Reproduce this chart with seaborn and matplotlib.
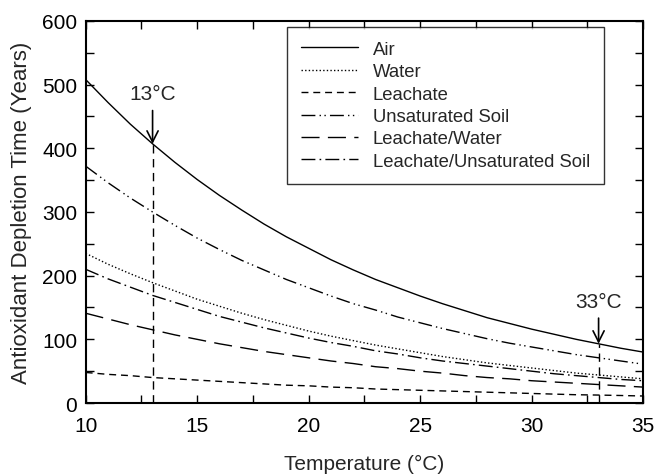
import matplotlib
matplotlib.use("Agg")
import matplotlib.pyplot as plt
import seaborn as sns
import pandas as pd

temps = list(range(10, 36))
air = [508, 472, 438, 407, 378, 351, 326, 303, 281, 261, 243, 225, 209, 194, 181,
       168, 156, 145, 134, 125, 116, 108, 100, 93, 86, 80]
water = [235, 218, 203, 189, 176, 163, 152, 141, 131, 122, 113, 105, 98, 91, 85,
         79, 73, 68, 63, 59, 55, 51, 47, 44, 41, 38]
leachate = [48, 45, 43, 40, 38, 36, 34, 32, 30, 28, 27, 25, 24, 22, 21,
            20, 19, 18, 17, 16, 15, 14, 13, 12.5, 11.8, 11]
unsat_soil = [372, 346, 322, 300, 279, 259, 241, 224, 209, 194, 181, 168, 156, 146, 135,
              126, 117, 109, 101, 94, 88, 82, 76, 71, 66, 61]
leachate_water = [141, 132, 123, 115, 107, 100, 93, 87, 81, 76, 71, 66, 62, 57, 54,
                  50, 47, 43, 40, 38, 35, 33, 31, 29, 27, 25]
leachate_unsat = [210, 195, 182, 169, 158, 147, 136, 127, 118, 110, 102, 95, 89, 82, 77,
                  71, 66, 62, 58, 54, 50, 46, 43, 40, 37, 35]

labels = ["Air", "Water", "Leachate", "Unsaturated Soil", "Leachate/Water",
          "Leachate/Unsaturated Soil"]
series = [air, water, leachate, unsat_soil, leachate_water, leachate_unsat]
styles = ["-", (0, (1, 1.6)), (0, (5, 3.5)), (0, (10, 3, 1, 2.5, 1, 3)),
          (0, (13, 6)), (0, (10, 3, 1.2, 3))]

marks = [13, 33]
mark_air = [407, 93]
mark_offsets = [64, 52]
mark_labels = ["13°C", "33°C"]

sns.set_style("ticks")
plt.rcParams['font.family'] = ['Liberation Sans', 'DejaVu Sans']

fig = plt.figure(figsize=(6.59, 4.77), dpi=100)
ax = fig.add_axes([0.130, 0.153, 0.846, 0.801])

for lab, vals, ls in zip(labels, series, styles):
    df = pd.DataFrame({"T": temps, "v": vals})
    sns.lineplot(data=df, x="T", y="v", ax=ax, color="black", linewidth=1.0,
                 linestyle=ls, label=lab)

for xm, ym, off, tl in zip(marks, mark_air, mark_offsets, mark_labels):
    ax.plot([xm, xm], [0, ym], color="black", linewidth=1.0,
            linestyle=(0, (6, 4)))
    ax.annotate(tl, xy=(xm, ym), xytext=(xm, ym + off), ha="center", va="bottom",
                fontsize=15,
                arrowprops=dict(arrowstyle="->", color="black", lw=1.2,
                                mutation_scale=20, shrinkA=3, shrinkB=0))

ax.set_xlim(10, 35)
ax.set_ylim(0, 600)
ax.set_xticks([10, 15, 20, 25, 30, 35])
ax.set_xticks([12.5, 17.5, 22.5, 27.5, 32.5], minor=True)
ax.set_yticks(range(0, 601, 100))
ax.set_yticks(range(50, 600, 100), minor=True)
ax.tick_params(which="both", direction="in", top=True, right=True,
               labelsize=15, width=1.0, colors="black")
ax.tick_params(which="major", length=6)
ax.tick_params(which="minor", length=6)
ax.tick_params(axis="x", pad=9)
ax.tick_params(axis="y", pad=6)
for s in ax.spines.values():
    s.set_linewidth(1.5)
    s.set_color("black")

ax.set_xlabel("Temperature (°C)", fontsize=15, labelpad=14)
ax.set_ylabel("Antioxidant Depletion Time (Years)", fontsize=16, labelpad=7)

leg = ax.legend(loc="upper left", bbox_to_anchor=(0.361, 0.984), fontsize=13.3,
                frameon=True, fancybox=False, handlelength=3.1,
                borderpad=0.75, labelspacing=0.29, handletextpad=0.8,
                borderaxespad=0)
leg.get_frame().set_edgecolor("black")
leg.get_frame().set_linewidth(1.0)

fig.savefig("out.png", dpi=100)
